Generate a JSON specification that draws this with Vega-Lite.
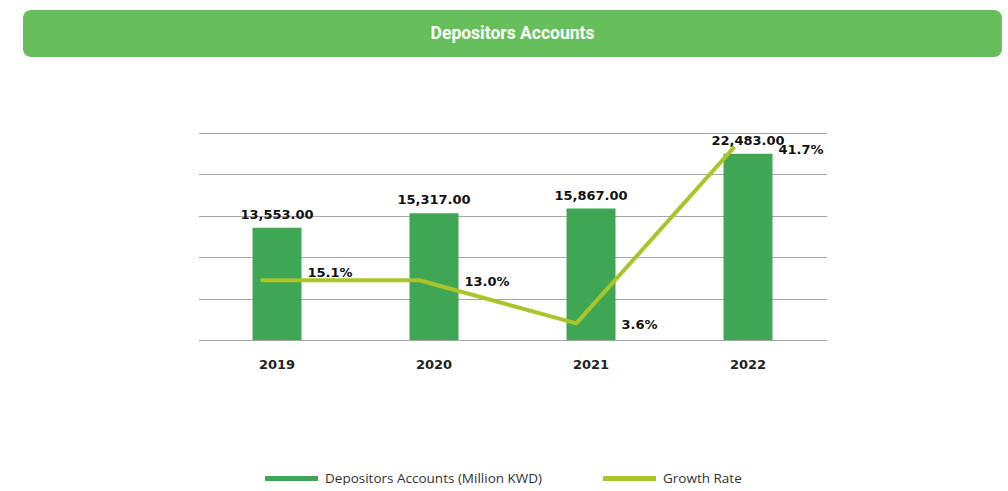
{
  "$schema": "https://vega.github.io/schema/vega-lite/v6.json",
  "padding": {"left": 23, "top": 10, "right": 0, "bottom": 0},
  "background": "white",
  "config": {"view": {"stroke": null}},
  "center": true,
  "spacing": 76,
  "vconcat": [
    {
      "width": 979,
      "height": 47,
      "view": {"fill": "#67bf5b", "cornerRadius": 8, "stroke": null},
      "data": {"values": [{"title": "Depositors Accounts"}]},
      "mark": {"type": "text", "font": "Roboto", "fontWeight": "bold", "fontSize": 17.5, "color": "white", "align": "center", "baseline": "middle"},
      "encoding": {"text": {"field": "title"}}
    },
    {
      "width": 628,
      "height": 207,
      "data": {"values": [
        {"year": "2019", "accounts": 13553, "growth": 15.1, "growth_plotted": 13.0, "growth_label": "15.1%"},
        {"year": "2020", "accounts": 15317, "growth": 13.0, "growth_plotted": 13.0, "growth_label": "13.0%"},
        {"year": "2021", "accounts": 15867, "growth": 3.6, "growth_plotted": 3.6, "growth_label": "3.6%"},
        {"year": "2022", "accounts": 22483, "growth": 41.7, "growth_plotted": 41.7, "growth_label": "41.7%"}
      ]},
      "encoding": {
        "x": {
          "field": "year", "type": "ordinal",
          "scale": {"paddingInner": 0.688, "paddingOuter": 0.344},
          "axis": {"title": null, "labelFont": "DejaVu Sans", "labelFontWeight": "bold", "labelFontSize": 13, "labelColor": "#222", "ticks": false, "domain": false, "labelPadding": 18, "labelAngle": 0}
        }
      },
      "layer": [
        {
          "encoding": {
            "y": {
              "field": "accounts", "type": "quantitative",
              "scale": {"domain": [0, 25000]},
              "axis": {"title": null, "labels": false, "ticks": false, "domain": false, "grid": true, "gridColor": "#a6a6a6", "gridWidth": 1, "values": [0, 5000, 10000, 15000, 20000, 25000]}
            }
          },
          "layer": [
            {
              "mark": {"type": "bar"},
              "encoding": {
                "color": {
                  "datum": "Depositors Accounts (Million KWD)",
                  "type": "nominal",
                  "scale": {"domain": ["Depositors Accounts (Million KWD)", "Growth Rate"], "range": ["#3fa654", "#a9c52b"]},
                  "legend": {
                    "title": null, "orient": "none", "legendX": 242, "legendY": 442, "direction": "horizontal",
                    "symbolType": "M-1,-0.09L1,-0.09L1,0.09L-1,0.09Z", "symbolSize": 2809, "symbolStrokeWidth": 0,
                    "labelFont": "Open Sans", "labelFontSize": 13.5, "labelColor": "#333", "columnPadding": 60, "labelOffset": 7, "labelLimit": 0
                  }
                }
              }
            },
            {
              "mark": {"type": "text", "font": "DejaVu Sans", "fontWeight": "bold", "fontSize": 13, "color": "#111", "baseline": "bottom", "dy": -6},
              "encoding": {"text": {"field": "accounts", "type": "quantitative", "format": ",.2f"}}
            }
          ]
        },
        {
          "layer": [
            {
              "mark": {"type": "line", "strokeWidth": 4, "strokeCap": "round", "strokeJoin": "round"},
              "encoding": {
                "x": {"field": "year", "type": "ordinal", "bandPosition": 0.2},
                "y": {"field": "growth_plotted", "type": "quantitative", "scale": {"domain": [0, 45]}, "axis": null},
                "color": {"datum": "Growth Rate", "type": "nominal"}
              }
            },
            {
              "mark": {"type": "text", "font": "DejaVu Sans", "fontWeight": "bold", "fontSize": 13, "color": "#111", "align": "left", "baseline": "middle", "dx": 6, "dy": 2},
              "encoding": {
                "x": {"field": "year", "type": "ordinal", "bandPosition": 1},
                "y": {"field": "growth", "type": "quantitative", "scale": {"domain": [0, 45]}, "axis": null},
                "text": {"field": "growth_label"}
              }
            }
          ]
        }
      ],
      "resolve": {"scale": {"y": "independent"}}
    }
  ]
}
